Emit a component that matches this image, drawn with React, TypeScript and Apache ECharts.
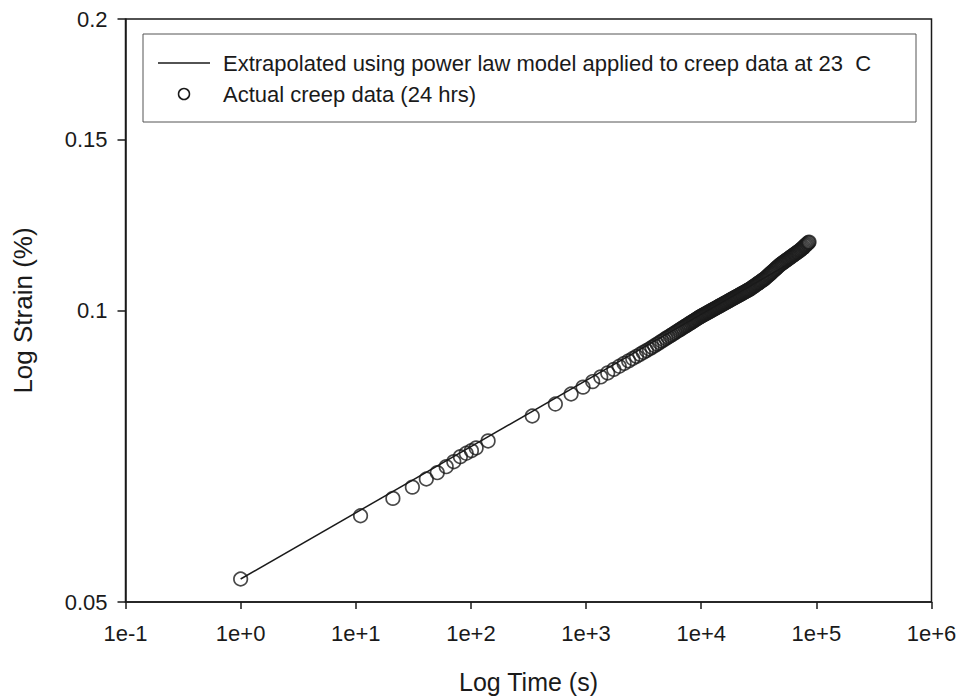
import React, { useEffect, useRef } from "react";
import * as echarts from "echarts";

// ---- data ----
const LEGEND_LABELS = [
  "Extrapolated using power law model applied to creep data at 23  C",
  "Actual creep data (24 hrs)",
];
const X_TITLE = "Log Time (s)";
const Y_TITLE = "Log Strain (%)";

const X_TICKS = [0.1, 1, 10, 100, 1000, 10000, 100000, 1000000];
const Y_TICKS = [0.05, 0.1, 0.15, 0.2];

// extrapolated power-law line (end points)
const LINE_TIME = [1, 86400];
const LINE_STRAIN = [0.05281, 0.11487];

// actual creep data: sparse part (s, %)
const TIME_SPARSE = [
  1, 11, 21, 31, 41, 51, 61, 71, 81, 91, 101, 111, 141, 341, 541, 741, 941, 1141,
  1341, 1541, 1741, 1941, 2141, 2341, 2541, 2741, 2941, 3141, 3341, 3541, 3741,
  3941, 4141, 4341, 4541, 4741, 4941, 5141, 5341, 5541, 5741, 5941, 6141, 6341,
  6541, 6741, 6941, 7141, 7341, 7541, 7741, 7941, 8141, 8341, 8541,
];
const STRAIN_SPARSE = [
  0.05281, 0.06138, 0.06397, 0.0657, 0.06699, 0.068, 0.06898, 0.0698, 0.07064,
  0.07121, 0.07165, 0.07212, 0.07333, 0.07781, 0.08006, 0.08199, 0.08334, 0.08445,
  0.08539, 0.0862, 0.08693, 0.08758, 0.08817, 0.08871, 0.08921, 0.08967, 0.09011,
  0.09051, 0.0909, 0.09126, 0.09162, 0.09198, 0.09233, 0.09266, 0.09297, 0.09328,
  0.09357, 0.09385, 0.09412, 0.09438, 0.09463, 0.09488, 0.09512, 0.09535, 0.09557,
  0.09579, 0.096, 0.09621, 0.09641, 0.0966, 0.09679, 0.09698, 0.09716, 0.09734,
  0.09752,
];

// actual creep data: dense part (overlapping markers)
const TIME_DENSE = [
  8710, 8913, 9120, 9333, 9550, 9772, 10000, 10233, 10471, 10715, 10965, 11220,
  11482, 11749, 12023, 12303, 12589, 12883, 13183, 13490, 13804, 14125, 14454,
  14791, 15136, 15488, 15849, 16218, 16596, 16982, 17378, 17783, 18197, 18621,
  19055, 19498, 19953, 20417, 20893, 21380, 21878, 22387, 22909, 23442, 23988,
  24547, 25119, 25704, 26303, 26915, 27542, 28184, 28840, 29512, 30200, 30903,
  31623, 32359, 33113, 33884, 34674, 35481, 36308, 37154, 38019, 38905, 39811,
  40738, 41687, 42658, 43652, 44668, 45709, 46774, 47863, 48978, 50119, 51286,
  52481, 53703, 54954, 56234, 57544, 58884, 60256, 61660, 63096, 64565, 66069,
  67608, 69183, 70795, 72444, 74131, 75858, 77625, 79433, 81283, 83176, 85114,
  86400,
];
const STRAIN_DENSE = [
  0.09766, 0.09783, 0.098, 0.09817, 0.09834, 0.09851, 0.09866, 0.09881, 0.09896,
  0.09911, 0.09926, 0.09941, 0.09957, 0.09972, 0.09987, 0.10002, 0.10017, 0.10033,
  0.10048, 0.10063, 0.10078, 0.10094, 0.10109, 0.10124, 0.1014, 0.10155, 0.10171,
  0.10186, 0.10202, 0.10217, 0.10233, 0.10248, 0.10264, 0.10279, 0.10295, 0.10311,
  0.10326, 0.10342, 0.10358, 0.10374, 0.10389, 0.10405, 0.10421, 0.10437, 0.10453,
  0.10469, 0.10485, 0.10501, 0.10517, 0.10535, 0.10556, 0.10576, 0.10597, 0.10617,
  0.10638, 0.10659, 0.10679, 0.107, 0.10721, 0.10742, 0.10762, 0.10783, 0.10808,
  0.10835, 0.10862, 0.10889, 0.10916, 0.10943, 0.1097, 0.10998, 0.11025, 0.11052,
  0.1108, 0.11107, 0.11135, 0.1116, 0.11182, 0.11204, 0.11226, 0.11249, 0.11271,
  0.11293, 0.11316, 0.11338, 0.11361, 0.11383, 0.11406, 0.11429, 0.11451, 0.11474,
  0.11497, 0.1152, 0.11544, 0.11573, 0.11601, 0.1163, 0.11659, 0.11688, 0.11717,
  0.11747, 0.11766,
];

const INK = "#1a1a1a";
const FONT = "'Liberation Sans', Arial, Helvetica, sans-serif";

export default function App() {
  const ref = useRef<HTMLDivElement>(null);

  useEffect(() => {
    if (!ref.current) return;
    const chart = echarts.init(ref.current, undefined, { renderer: "svg" });

    const lineData = LINE_TIME.map((t, i) => [t, LINE_STRAIN[i]]);
    const times = TIME_SPARSE.concat(TIME_DENSE);
    const strains = STRAIN_SPARSE.concat(STRAIN_DENSE);
    const creepData = times.map((t, i) => [t, strains[i]]);

    const axisLineStyle = { color: INK, width: 1.5 };

    chart.setOption({
      animation: false,
      backgroundColor: "#ffffff",
      textStyle: { fontFamily: FONT, color: INK },
      grid: {
        left: 125.5,
        right: 29.5,
        top: 19,
        bottom: 96,
        show: true,
        borderColor: INK,
        borderWidth: 1.5,
        containLabel: false,
        outerBoundsMode: "none",
      },
      xAxis: {
        type: "log",
        logBase: 10,
        min: 0.1,
        max: 1000000,
        name: X_TITLE,
        nameLocation: "middle",
        nameGap: 67,
        nameTextStyle: { fontSize: 25, color: INK, fontFamily: FONT },
        axisLine: { show: true, lineStyle: axisLineStyle },
        axisTick: {
          show: true,
          inside: false,
          length: 7,
          customValues: X_TICKS,
          lineStyle: axisLineStyle,
        },
        minorTick: { show: false },
        splitLine: { show: false },
        axisLabel: {
          customValues: X_TICKS,
          fontSize: 22,
          margin: 20,
          color: INK,
          fontFamily: FONT,
          formatter: (v: number) => {
            const e = Math.round(Math.log10(v));
            return "1e" + (e >= 0 ? "+" : "") + e;
          },
        },
      },
      yAxis: {
        type: "log",
        logBase: 10,
        min: 0.05,
        max: 0.2,
        name: Y_TITLE,
        nameLocation: "middle",
        nameGap: 90,
        nameRotate: 90,
        nameTextStyle: { fontSize: 26, color: INK, fontFamily: FONT },
        axisLine: { show: true, lineStyle: axisLineStyle },
        axisTick: {
          show: true,
          inside: false,
          length: 8,
          customValues: Y_TICKS,
          lineStyle: axisLineStyle,
        },
        minorTick: { show: false },
        splitLine: { show: false },
        axisLabel: {
          customValues: Y_TICKS,
          fontSize: 22,
          margin: 18,
          color: INK,
          fontFamily: FONT,
          formatter: (v: number) => String(Math.round(v * 100) / 100),
        },
      },
      graphic: [
        {
          type: "rect",
          shape: { x: 143, y: 34, width: 773, height: 88 },
          style: { fill: "transparent", stroke: "#555", lineWidth: 1 },
          z: 10,
        },
        {
          type: "line",
          shape: { x1: 158, y1: 63, x2: 210, y2: 63 },
          style: { stroke: INK, lineWidth: 1.5 },
          z: 10,
        },
        {
          type: "circle",
          shape: { cx: 184, cy: 94, r: 5.5 },
          style: { fill: "transparent", stroke: INK, lineWidth: 1.5 },
          z: 10,
        },
        {
          type: "text",
          x: 223,
          y: 63,
          style: {
            text: LEGEND_LABELS[0],
            fontSize: 22,
            fontFamily: FONT,
            fill: INK,
            verticalAlign: "middle",
          },
          z: 10,
        },
        {
          type: "text",
          x: 223,
          y: 94,
          style: {
            text: LEGEND_LABELS[1],
            fontSize: 22,
            fontFamily: FONT,
            fill: INK,
            verticalAlign: "middle",
          },
          z: 10,
        },
      ],
      series: [
        {
          name: LEGEND_LABELS[0],
          type: "line",
          data: lineData,
          showSymbol: false,
          symbol: "none",
          lineStyle: { color: INK, width: 1.5 },
          z: 2,
        },
        {
          name: LEGEND_LABELS[1],
          type: "scatter",
          data: creepData,
          symbol: "circle",
          symbolSize: 13.5,
          itemStyle: {
            color: "rgba(255,255,255,0)",
            borderColor: INK,
            borderWidth: 1.7,
          },
          z: 3,
        },
      ],
    });

    return () => chart.dispose();
  }, []);

  return (
    <div
      ref={ref}
      style={{
        position: "fixed",
        left: 0,
        top: 0,
        width: 961,
        height: 698,
        background: "#fff",
      }}
    />
  );
}
